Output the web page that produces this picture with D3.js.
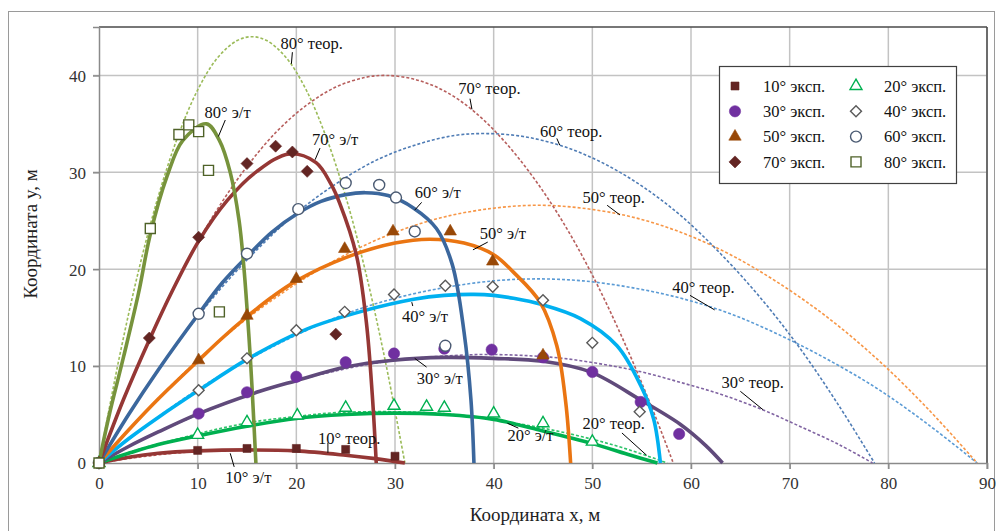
<!DOCTYPE html>
<html><head><meta charset="utf-8">
<script src="https://cdn.jsdelivr.net/npm/d3@7"></script>
<style>body{margin:0;background:#fff}svg{display:block}</style>
</head><body>
<svg id="c" width="998" height="531"></svg>
<script>
// ---------- DATA ----------
const xTicks = [0,10,20,30,40,50,60,70,80,90];
const yTicks = [0,10,20,30,40];
const angles = [10,20,30,40,50,60,70,80];

// experimental points [x, y]
const exp10 = [[0,0],[10,1.3],[15,1.5],[20,1.5],[25,1.4],[30,0.7]];
const exp20 = [[0,0],[10,2.9],[15,4.2],[20.1,4.9],[25,5.7],[29.9,5.9],[33.2,5.8],[35,5.7],[40,5.1],[45,4.1],[50,2.2]];
const exp30 = [[0,0],[10.1,5.1],[15,7.3],[20,8.9],[25,10.4],[29.9,11.3],[35,11.8],[39.8,11.7],[45,10.9],[50,9.4],[54.9,6.3],[58.8,3.0]];
const exp40 = [[0,0],[10.1,7.5],[15,10.8],[20,13.7],[24.9,15.6],[29.9,17.4],[35.1,18.3],[39.9,18.2],[45,16.8],[50,12.4],[54.8,5.3]];
const exp50 = [[0,0],[10.1,10.6],[15,15.2],[20,19.0],[24.9,22.1],[29.8,23.9],[35.6,23.9],[39.9,20.8],[45,11.1]];
const exp60 = [[0,0],[10.1,15.4],[15,21.6],[20.2,26.2],[25,28.9],[28.4,28.7],[30.1,27.4],[32,23.9],[35.1,12.1]];
const exp70 = [[0,0],[5.1,12.9],[10.1,23.3],[15,30.9],[17.9,32.7],[19.6,32.1],[21.1,30.1],[24,13.3]];
const exp80 = [[0,0],[5.2,24.2],[8.1,33.9],[9.1,34.9],[10.1,34.2],[11.1,30.2],[12.2,15.6]];

// experimental-theoretical (э/т) trajectories
const et10 = [[0,0],[3,0.6],[6,1.0],[10,1.25],[15,1.35],[20,1.25],[25,0.8],[28,0.45],[31,0]];
const et20 = [[0,0],[3,1.0],[6,1.9],[10,2.8],[15,3.8],[20,4.6],[25,5.0],[30,5.15],[35,5.0],[40,4.5],[45,3.3],[50,2.0],[53.9,0.8],[56.6,0]];
const et30 = [[0,0],[3,1.7],[6,3.2],[10.1,5.1],[16.3,7.4],[20,8.5],[25,9.9],[29.8,10.6],[35,10.9],[40,10.8],[45,10.5],[49.8,9.4],[54.9,6.5],[58.9,4.0],[61.5,1.8],[63.2,0]];
const et40 = [[0,0],[3,2.5],[6,4.7],[10.1,7.5],[15,10.7],[21,13.8],[26.8,15.7],[31.9,16.9],[35,17.3],[38,17.4],[40,17.3],[42,17.0],[44.7,16.4],[48.8,14.9],[52.5,12.1],[54.9,8],[56.2,4.6],[56.9,0]];
const et50 = [[0,0],[3,3.4],[6,6.6],[10.1,10.6],[12.5,12.9],[15,15.1],[17.5,17.1],[20,18.8],[25,21.2],[30,22.7],[33.5,23.1],[37,22.7],[40,21.5],[42,19.7],[44.7,16.6],[46.4,12.1],[47.3,6.3],[47.8,0]];
const et60 = [[0,0],[3,5.0],[6,9.6],[10.1,15.4],[12.5,18.6],[15,21.3],[17.5,23.8],[20.2,25.8],[22.5,27.0],[25,27.7],[27,27.9],[29.3,27.6],[31.9,26.3],[34.2,24.2],[35.8,20.5],[37,13.5],[37.7,6.5],[38,0]];
const et70 = [[0,0],[2.5,6.6],[5.1,12.7],[7.5,17.9],[10.1,22.9],[13,27.1],[16,30.1],[19.3,31.9],[22,31.0],[23.5,28.8],[24.4,26.8],[26.1,21.4],[27.1,14.5],[27.7,7],[28.1,0]];
const et80 = [[0,0],[1,4.8],[2.5,11],[4,17.5],[5.2,23.6],[6.9,29.6],[8.5,33.3],[10.9,35.0],[12.2,33.3],[13.3,30],[14.2,25],[14.7,20],[15.2,13],[15.5,8],[15.9,0]];

// theoretical (теор.) trajectories
const teor10 = [[0,0],[4,0.6],[8,1.04],[12,1.28],[15.4,1.35],[19,1.28],[23,1.02],[27,0.58],[30.7,0]];
const teor20 = [[0,0],[4,1.4],[8,2.5],[12,3.5],[16,4.3],[20,4.8],[24,5.2],[28.8,5.3],[33,5.2],[37,4.9],[41,4.3],[45,3.6],[49,2.7],[53,1.6],[57.6,0]];
const teor30 = [[0,0],[4,2.2],[8,4.1],[12,5.8],[16,7.3],[20,8.5],[24,9.5],[28,10.3],[32,10.8],[36,11.1],[39.2,11.2],[43,11.1],[47,10.8],[51,10.2],[55,9.4],[59,8.3],[63,7.1],[67,5.6],[71,3.8],[75,1.9],[78.4,0]];
const teor40 = [[0,0],[5,4],[10,7.6],[15,10.6],[20,13.2],[25,15.4],[30,17],[35,18.1],[40,18.8],[44.5,19],[49,18.8],[54,18.1],[59,17],[64,15.4],[69,13.2],[74,10.6],[79,7.6],[84,4],[89,0]];
const teor50 = [[0,0],[5,5.6],[10,10.6],[15,14.9],[20,18.5],[25,21.5],[30,23.8],[35,25.4],[40,26.3],[44.5,26.6],[49,26.3],[54,25.4],[59,23.8],[64,21.5],[69,18.5],[74,14.9],[79,10.6],[84,5.6],[89,0]];
const teor60 = [[0,0],[4,6.6],[8,12.4],[12,17.6],[16,22],[20,25.8],[24,28.8],[28,31.2],[32,32.8],[36,33.8],[39.3,34],[43,33.7],[47,32.7],[51,31],[55,28.6],[59,25.5],[63,21.6],[67,17.1],[71,11.9],[75,5.9],[78.6,0]];
const teor70 = [[0,0],[3,7.8],[6,14.8],[9,20.9],[12,26.2],[15,30.6],[18,34.2],[21,36.9],[24,38.8],[27,39.8],[29.1,40],[32,39.6],[35,38.4],[38,36.3],[41,33.3],[44,29.5],[47,24.9],[50,19.4],[53,13],[56,5.8],[58.2,0]];
const teor80 = [[0,0],[2,10.6],[4,19.8],[6,27.5],[8,33.7],[10,38.5],[12,41.8],[14,43.6],[15.5,44],[17,43.6],[19,41.8],[21,38.5],[23,33.7],[25,27.5],[27,19.8],[29,10.6],[31,0]];

// annotation labels: text, text-left x, text-center y, leader from (x1,y1) to (x2,y2) — data units
const annText = ["80° теор.","70° теор.","60° теор.","50° теор.","40° теор.","30° теор.","20° теор.","10° теор.",
                 "80° э/т","70° э/т","60° э/т","50° э/т","40° э/т","30° э/т","20° э/т","10° э/т"];
const annPos = [[18.4,43.3,19.6,42.4,19.5,41.2],[36.4,38.7,37.6,37.6,37.8,36.5],[44.7,34.2,46.4,33.5,46.7,32.8],
                [49.0,27.4,51.5,26.6,52.8,25.6],[58.1,18.1,59.9,17.3,62.4,15.8],[63.1,8.3,65,7.4,67.3,5.5],
                [49.0,4.1,53,3.1,55.5,0.8],[22.2,2.6,23.2,2.1,23.2,1.05],
                [10.7,36.2,12.8,35.4,12.1,33.7],[21.6,33.4,22.4,32.5,21.9,31.3],[32.0,27.9,32.7,26.9,32.0,26.1],
                [38.6,23.7,39.4,22.8,37.9,22.0],[30.7,15.2,31.8,16.2,31.7,16.6],[32.2,8.8,33.2,9.9,32.0,10.8],
                [41.4,2.9,42.5,3.6,41.4,4.1],[12.8,-1.5,13.7,-0.4,13.3,1.0]];

const legendLabels = ["10° эксп.","20° эксп.","30° эксп.","40° эксп.","50° эксп.","60° эксп.","70° эксп.","80° эксп."];

// ---------- STYLE ----------
const expData = [exp10,exp20,exp30,exp40,exp50,exp60,exp70,exp80];
const etData = [et10,et20,et30,et40,et50,et60,et70,et80];
const teorData = [teor10,teor20,teor30,teor40,teor50,teor60,teor70,teor80];
const etColor = ["#953735","#00b050","#604a7b","#00b0f0","#ea7512","#3b679d","#953735","#77933c"];
const teorColor = ["#c0504d","#2fc46a","#8064a2","#5b9bd5","#f79646","#4f7cb5","#b75f5d","#9bbb59"];
const mk = [
  {t:d3.symbolSquare, s:64, fill:"#632523", stroke:"#632523", rot:0},
  {t:d3.symbolTriangle, s:62, fill:"#fff", stroke:"#00b050", rot:0},
  {t:d3.symbolCircle, s:100, fill:"#7030a0", stroke:"#7030a0", rot:0},
  {t:d3.symbolSquare, s:60, fill:"#fff", stroke:"#5a5a5a", rot:45},
  {t:d3.symbolTriangle, s:66, fill:"#984807", stroke:"#984807", rot:0},
  {t:d3.symbolCircle, s:95, fill:"#fff", stroke:"#4a5a72", rot:0},
  {t:d3.symbolSquare, s:72, fill:"#632523", stroke:"#632523", rot:45},
  {t:d3.symbolSquare, s:100, fill:"#fff", stroke:"#4f6228", rot:0}
];
const FONT = "'Liberation Serif','Times New Roman',serif";

const svg = d3.select("#c");
const L=99, R=987, T=27, B=463;
const x = d3.scaleLinear().domain([0,90]).range([L,R]);
const y = d3.scaleLinear().domain([0,45]).range([B,T]);

// outer frame
svg.append("rect").attr("x",8.5).attr("y",11.5).attr("width",986).attr("height",530)
  .attr("fill","#fff").attr("stroke","#9a9a9a").attr("stroke-width",1);

// grid
const g = svg.append("g");
g.selectAll(".vg").data(xTicks.slice(1)).join("line")
  .attr("x1",d=>x(d)).attr("x2",d=>x(d)).attr("y1",T).attr("y2",B+6)
  .attr("stroke","#c3c3c3").attr("stroke-width",1.5);
g.selectAll(".hg").data(yTicks.slice(1)).join("line")
  .attr("y1",d=>y(d)).attr("y2",d=>y(d)).attr("x1",L-6).attr("x2",R)
  .attr("stroke","#c3c3c3").attr("stroke-width",1.5);
// plot frame top/right
g.append("line").attr("x1",L).attr("x2",R).attr("y1",T).attr("y2",T).attr("stroke","#4a4a4a").attr("stroke-width",1.5);
g.append("line").attr("x1",R).attr("x2",R).attr("y1",T).attr("y2",B).attr("stroke","#4a4a4a").attr("stroke-width",1.5);

// axes
const xa = svg.append("g").attr("transform",`translate(0,${B})`)
  .call(d3.axisBottom(x).tickValues(xTicks).tickSize(6).tickPadding(5).tickFormat(d3.format("d")));
const ya = svg.append("g").attr("transform",`translate(${L},0)`)
  .call(d3.axisLeft(y).tickValues(yTicks).tickSize(6).tickPadding(7).tickFormat(d3.format("d")));
[xa,ya].forEach(a=>{
  a.attr("font-family",FONT);
  a.select(".domain").attr("stroke","#8a8a8a").attr("stroke-width",1.5);
  a.selectAll(".tick line").attr("stroke","#8a8a8a").attr("stroke-width",1.5);
  a.selectAll("text").attr("font-family",FONT).attr("font-size",17).attr("fill","#333");
});
xa.selectAll("text").attr("dy","0.9em");
ya.selectAll("text").attr("dy","0.34em");

// axis titles
svg.append("text").attr("x",(x(0)+x(90))/2-8).attr("y",521).attr("text-anchor","middle")
  .attr("font-family",FONT).attr("font-size",19).attr("fill","#222").text("Координата x, м");
svg.append("text").attr("transform","translate(37,234) rotate(-90)").attr("text-anchor","middle")
  .attr("font-family",FONT).attr("font-size",19).attr("fill","#222").text("Координата y, м");

// clip
svg.append("clipPath").attr("id","pc").append("rect").attr("x",L).attr("y",T-1).attr("width",R-L+1).attr("height",B-T+3);

const line = d3.line().x(d=>x(d[0])).y(d=>y(d[1])).curve(d3.curveCatmullRom.alpha(0.5));
const plot = svg.append("g").attr("clip-path","url(#pc)");

// theoretical dashed
teorData.forEach((d,i)=>{
  plot.append("path").attr("d",line(d)).attr("fill","none")
    .attr("stroke",teorColor[i]).attr("stroke-width",1.6).attr("stroke-dasharray","3,2");
});
// э/т solid
etData.forEach((d,i)=>{
  plot.append("path").attr("d",line(d)).attr("fill","none")
    .attr("stroke",etColor[i]).attr("stroke-width",3.6).attr("stroke-linejoin","round");
});

// markers
const sym = (m)=>d3.symbol().type(m.t).size(m.s)();
const markerLayer = svg.append("g");
expData.forEach((d,i)=>{
  const m = mk[i];
  markerLayer.selectAll(null).data(d).join("path")
    .attr("d",sym(m))
    .attr("transform",p=>`translate(${x(p[0])},${y(p[1])}) rotate(${m.rot})`)
    .attr("fill",m.fill).attr("stroke",m.stroke).attr("stroke-width",m.fill==="#fff"?1.4:0.6);
});

// annotations
const ann = svg.append("g");
annText.forEach((t,i)=>{
  const p = annPos[i];
  ann.append("line").attr("x1",x(p[2])).attr("y1",y(p[3])).attr("x2",x(p[4])).attr("y2",y(p[5]))
    .attr("stroke","#000").attr("stroke-width",1);
  ann.append("text").attr("x",x(p[0])).attr("y",y(p[1])).attr("dy","0.35em")
    .attr("font-family",FONT).attr("font-size",16.5).attr("fill","#111").text(t);
});

// legend
const lg = svg.append("g");
lg.append("rect").attr("x",719.5).attr("y",66.5).attr("width",237).attr("height",117)
  .attr("fill","#fff").attr("stroke","#404040").attr("stroke-width",1.2);
legendLabels.forEach((t,i)=>{
  const col = i%2, row = Math.floor(i/2);
  const mx = col===0?735:856, tx = col===0?763:884, cy = 86+row*25.3;
  const m = mk[i];
  lg.append("path").attr("d",sym(m)).attr("transform",`translate(${mx},${cy}) rotate(${m.rot})`)
    .attr("fill",m.fill).attr("stroke",m.stroke).attr("stroke-width",m.fill==="#fff"?1.4:0.6);
  lg.append("text").attr("x",tx).attr("y",cy).attr("dy","0.35em")
    .attr("font-family",FONT).attr("font-size",16.5).attr("fill","#111").text(t);
});
</script>
</body></html>
